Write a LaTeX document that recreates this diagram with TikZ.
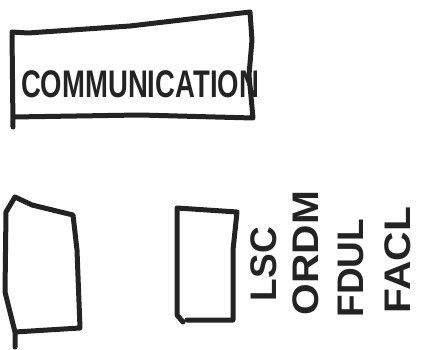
\documentclass[tikz,border=0pt]{standalone}
\usepackage{fontspec}
\setmainfont{Liberation Sans}
\usepackage{tikz}
\definecolor{Tinta}{RGB}{35, 35, 35}

\begin{document}
\begin{tikzpicture}[
        x=1pt, y=-1pt,
        sketch/.style={
            draw=Tinta,
            line width=5pt,
            line cap=round,
            line join=round
        },
        title/.style={
            text=Tinta,
            inner sep=0pt,
            font=\bfseries\fontsize{27.5}{28}\selectfont
        },
        tag/.style={
            text=Tinta,
            rotate=90,
            inner sep=0pt,
            font=\bfseries\fontsize{37}{37}\selectfont
        }
    ]
        \useasboundingbox (0,0) rectangle (425,350);

        % Boxes
        \draw[sketch] (13,127) -- (12,32) -- (28,33) -- (130,26) -- (250,12)
            -- (252,40) -- (249,75) -- (253,118) -- (140,115) -- (13,117);
        \draw[sketch] (15,347) -- (15,332) -- (5,292) -- (6,212) -- (15,197)
            -- (32,205) -- (73,215) -- (77,250) -- (80,328) -- (15,332);
        \draw[sketch] (183,322) -- (177,315) -- (177,208) -- (237,212)
            -- (233,250) -- (233,320) -- (187,320);

        % Nodes
        \node[title] (comm) at (140,84) {\scalebox{1}[1.4]{COMMUNICATION}};
        \node[tag] (lsc) at (264,264) {LSC};
        \node[tag] (ordm) at (306,253) {\scalebox{1.1}[1]{ORDM}};
        \node[tag] (fdul) at (351,268) {FDUL};
        \node[tag] (facl) at (398,260) {\scalebox{1.1}[1]{FACL}};
    \end{tikzpicture}
\end{document}
